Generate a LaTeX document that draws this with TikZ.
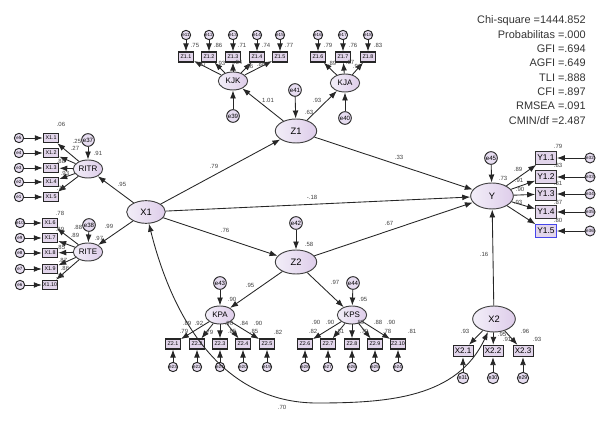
\documentclass[tikz,border=0pt]{standalone}
\usepackage{fontspec}
\setmainfont{Liberation Sans}
\usepackage{tikz}
\usetikzlibrary{shapes,arrows,positioning,calc,arrows.meta}

\definecolor{latL}{RGB}{242,238,248}
\definecolor{latR}{RGB}{222,205,234}
\definecolor{obsF}{RGB}{226,213,235}
\definecolor{errF}{RGB}{230,220,240}
\definecolor{selB}{RGB}{70,70,235}

\tikzset{
  lat/.style={ellipse, draw=black!75, line width=0.7pt, left color=latL, right color=latR,
    inner sep=0pt, minimum width=31pt, minimum height=18pt, font=\fontsize{7}{8}\selectfont},
  sublat/.style={lat, minimum width=22pt, minimum height=13.5pt, font=\fontsize{6}{7}\selectfont},
  obs/.style={rectangle, draw=black!85, line width=0.85pt, fill=obsF, inner sep=0pt,
    minimum width=11pt, minimum height=7.5pt, font=\fontsize{4}{5}\selectfont},
  obsbig/.style={obs, line width=0.75pt, minimum width=15.5pt, minimum height=9.5pt, font=\fontsize{6.3}{7}\selectfont},
  err/.style={circle, draw=black!85, line width=0.7pt, fill=errF, inner sep=0pt,
    minimum size=7pt, font=\fontsize{3.4}{4}\selectfont},
  errbig/.style={err, minimum size=9.5pt, font=\fontsize{4.6}{5}\selectfont},
  pth/.style={-{Latex[length=6pt,width=4.4pt]}, line width=0.65pt, black!85},
  cov/.style={{Latex[length=6pt,width=4.4pt]}-{Latex[length=6pt,width=4.4pt]}, line width=0.65pt, black!85},
  est/.style={inner sep=0pt, text=black!75, font=\fontsize{4.5}{5}\selectfont},
  fitline/.style={inner sep=0pt, anchor=base east, text=black!80, font=\fontsize{8.2}{10}\selectfont}
}

\begin{document}
\begin{tikzpicture}[x=0.75pt,y=-0.75pt]
\useasboundingbox (0,0) rectangle (596,427);

% latent variables
\node[lat, minimum width=29pt, minimum height=17pt] (x1) at (146,212) {X1};
\node[lat] (z1) at (296,131) {Z1};
\node[lat] (z2) at (296,262) {Z2};
\node[lat, minimum width=32pt, minimum height=19.5pt] (y) at (492,196) {Y};
\node[lat, minimum width=32pt, minimum height=19.5pt] (x2) at (494,319) {X2};
\node[sublat] (ritr) at (88,169) {RITR};
\node[sublat] (rite) at (88,252) {RITE};
\node[sublat] (kjk) at (233,81) {KJK};
\node[sublat] (kja) at (345,83) {KJA};
\node[sublat] (kpa) at (220,315) {KPA};
\node[sublat] (kps) at (352,315) {KPS};

% residuals
\node[errbig] (e37) at (88,140) {e37};
\node[errbig] (e38) at (89,225) {e38};
\node[errbig] (e39) at (233,116) {e39};
\node[errbig] (e40) at (345,118) {e40};
\node[errbig] (e41) at (295,90) {e41};
\node[errbig] (e42) at (296,223) {e42};
\node[errbig] (e43) at (220,283) {e43};
\node[errbig] (e44) at (353,283) {e44};
\node[errbig] (e45) at (491,158) {e45};
\draw[pth] (e37) -- (ritr);
\draw[pth] (e38) -- (rite);
\draw[pth] (e39) -- (kjk);
\draw[pth] (e40) -- (kja);
\draw[pth] (e41) -- (z1);
\draw[pth] (e42) -- (z2);
\draw[pth] (e43) -- (kpa);
\draw[pth] (e44) -- (kps);
\draw[pth] (e45) -- (y);

% structural paths
\draw[pth] (x1) -- (z1);
\draw[pth] (x1) -- (z2);
\draw[pth] (x1) -- (y);
\draw[pth] (z1) -- (y);
\draw[pth] (z2) -- (y);
\draw[pth] (x2) -- (y);
\draw[pth] (z1) -- (kjk);
\draw[pth] (z1) -- (kja);
\draw[pth] (z2) -- (kpa);
\draw[pth] (z2) -- (kps);
\draw[pth] (x1) -- (ritr);
\draw[pth] (x1) -- (rite);

% indicators
\foreach \i/\xx/\ee in {1/186/11,2/209/12,3/233/13,4/257/14,5/280/15} {
  \node[obs] (z1\i) at (\xx,57) {Z1.\i};
  \node[err] (e\ee) at (\xx,35) {e\ee};
  \draw[pth] (e\ee) -- (z1\i);
  \draw[pth] (kjk) -- (z1\i);
}
\foreach \i/\xx/\ee in {6/318/16,7/343/17,8/368/18} {
  \node[obs] (z1\i) at (\xx,57) {Z1.\i};
  \node[err] (e\ee) at (\xx,35) {e\ee};
  \draw[pth] (e\ee) -- (z1\i);
  \draw[pth] (kja) -- (z1\i);
}
\foreach \i/\yy/\ee in {1/138/5,2/153/4,3/168/3,4/182/2,5/197/1} {
  \node[obs, minimum width=11.5pt, minimum height=7pt] (x1\i) at (51,\yy) {X1.\i};
  \node[err] (e\ee) at (19,\yy) {e\ee};
  \draw[pth] (e\ee) -- (x1\i);
  \draw[pth] (ritr) -- (x1\i);
}
\foreach \i/\yy/\ee in {6/223/10,7/238/9,8/253/8,9/269/7,10/285/6} {
  \node[obs, minimum width=11.5pt, minimum height=7pt] (x1\i) at (50,\yy) {X1.\i};
  \node[err] (e\ee) at (20,\yy) {e\ee};
  \draw[pth] (e\ee) -- (x1\i);
  \draw[pth] (rite) -- (x1\i);
}
\foreach \i/\yy/\ee/\bc in {1/158/32/black!80,2/177/33/black!80,3/194/34/black!80,4/212/35/black!80,5/231/36/selB} {
  \node[obsbig, draw=\bc] (y1\i) at (546,\yy) {Y1.\i};
  \node[err, minimum size=7.5pt] (e\ee) at (590,\yy) {e\ee};
  \draw[pth] (e\ee) -- (y1\i);
  \draw[pth] (y) -- (y1\i);
}
\foreach \i/\xx/\ee in {1/173/23,2/197/22,3/220/21,4/243/20,5/267/19} {
  \node[obs] (z2\i) at (\xx,344) {Z2.\i};
  \node[err] (e\ee) at (\xx,367) {e\ee};
  \draw[pth] (e\ee) -- (z2\i);
  \draw[pth] (kpa) -- (z2\i);
}
\foreach \i/\xx/\ee in {6/305/28,7/328/27,8/352/26,9/375/25,10/398/24} {
  \node[obs] (z2\i) at (\xx,344) {Z2.\i};
  \node[err] (e\ee) at (\xx,367) {e\ee};
  \draw[pth] (e\ee) -- (z2\i);
  \draw[pth] (kps) -- (z2\i);
}
\foreach \i/\xx/\ee in {1/463/31,2/493/30,3/523/29} {
  \node[obsbig, minimum width=15pt, minimum height=8.5pt, font=\fontsize{6}{7}\selectfont] (x2\i) at (\xx,351) {X2.\i};
  \node[err, minimum size=8.5pt, font=\fontsize{4}{5}\selectfont] (e\ee) at (\xx,378) {e\ee};
  \draw[pth] (e\ee) -- (x2\i);
  \draw[pth] (x2) -- (x2\i);
}

% covariance X1 - X2
\coordinate (covlow) at (317,403);
\draw[cov] (x1) to[out=-76,in=180] (covlow) to[out=0,in=-115] (x2);

% estimates
\foreach \xx/\yy/\tt [count=\k] in {214/166/.79, 225/230/.76, 312/197/-.18, 399/157/.33, 389/223/.67,
  484/254/.16, 282/407/.70, 268/100/1.01, 317/100/.93, 309/112/.63, 309/244/.58, 250/285/.95,
  232/299/.90, 335/282/.97, 363/299/.95, 503/178/.73, 122/184/.95, 98/153/.91, 109/226/.99, 99/238/.97,
  195/45/.75, 218/45/.86, 242/45/.71, 266/45/.74, 289/45/.77, 202/64/.87, 221/63/.93, 238/62/.84,
  249/66/.86, 261/64/.88, 328/45/.79, 353/45/.76, 378/45/.83, 332/63/.89, 350/62/.87, 357/66/.91,
  61/124/.06, 77/141/.25, 75/148/.27, 61/161/.88, 65/173/.93, 61/188/.78,
  60/213/.78, 78/227/.88, 60/229/.89, 75/235/.89, 61/247/.85, 63/260/.87, 65/268/.86, 60/276/.74,
  558/146/.79, 518/169/.89, 519/180/.91, 520/189/.90, 518/202/.93, 558/165/.83, 558/183/.81,
  558/202/.87, 558/220/.80,
  187/323/.89, 199/323/.92, 229/323/.90, 244/323/.84, 258/323/.90, 184/331/.79, 209/332/.79,
  232/331/.85, 254/331/.85, 278/332/.82,
  316/322/.90, 330/322/.90, 360/322/.89, 378/322/.88, 391/322/.90, 313/331/.82, 340/331/.81,
  364/331/.79, 387/331/.78, 412/331/.81,
  465/331/.93, 502/334/.95, 507/339/.91, 525/331/.96, 537/339/.93}
  \node[est] (lb\k) at (\xx,\yy) {\tt};

% fit statistics
\foreach \tt [count=\k] in {Chi-square =1444.852, Probabilitas =.000, GFI =.694, AGFI =.649,
  TLI =.888, CFI =.897, RMSEA =.091, CMIN/df =2.487}
  \node[fitline] (fit\k) at (586,{24+(\k-1)*14.3}) {\tt};
\end{tikzpicture}
\end{document}
